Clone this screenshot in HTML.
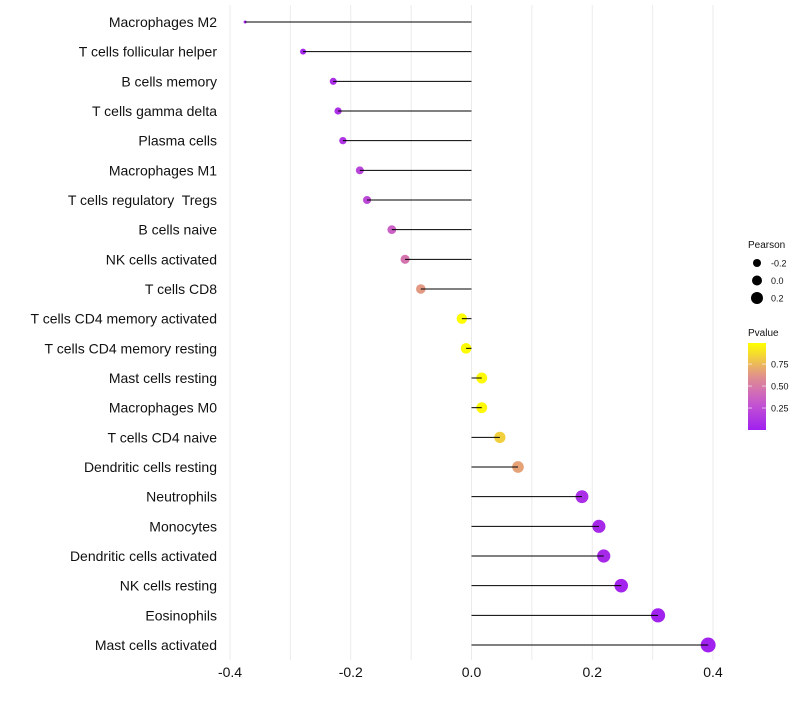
<!DOCTYPE html>
<html><head><meta charset="utf-8"><style>
body{margin:0;background:#fff;font-family:"Liberation Sans",sans-serif}
text{white-space:pre}
</style></head><body>
<svg id="c" width="800" height="700" xmlns="http://www.w3.org/2000/svg"></svg>
<script>
const categories=["Macrophages M2","T cells follicular helper","B cells memory","T cells gamma delta","Plasma cells","Macrophages M1","T cells regulatory  Tregs","B cells naive","NK cells activated","T cells CD8","T cells CD4 memory activated","T cells CD4 memory resting","Mast cells resting","Macrophages M0","T cells CD4 naive","Dendritic cells resting","Neutrophils","Monocytes","Dendritic cells activated","NK cells resting","Eosinophils","Mast cells activated"];
const pearson=[-0.375,-0.279,-0.229,-0.221,-0.213,-0.185,-0.173,-0.132,-0.110,-0.084,-0.016,-0.009,0.017,0.017,0.047,0.077,0.183,0.211,0.219,0.248,0.309,0.392];
const pvalue=[0.02,0.04,0.08,0.09,0.11,0.20,0.22,0.35,0.45,0.62,0.96,0.95,0.94,0.94,0.80,0.65,0.08,0.05,0.05,0.03,0.01,0.005];
const xTicks=[-0.4,-0.2,0.0,0.2,0.4];
const xTickLabels=["-0.4","-0.2","0.0","0.2","0.4"];
const gridVals=[-0.4,-0.3,-0.2,-0.1,0,0.1,0.2,0.3,0.4];
const sizeLegend=[-0.2,0.0,0.2];
const colorLegendTicks=[0.25,0.50,0.75];

const svg=document.getElementById('c');
const NS="http://www.w3.org/2000/svg";
function mk(t,a,p){const e=document.createElementNS(NS,t);for(const k in a)e.setAttribute(k,a[k]);(p||svg).appendChild(e);return e;}
const x=v=>471.5+v*603.75;
const y=i=>22+i*29.667;
const r=v=>Math.sqrt(2.25+70*(v+0.375));
const stops=[[0,[160,32,240]],[0.33,[200,90,205]],[0.62,[225,145,140]],[1,[255,255,0]]];
function col(p){const t=Math.max(0,Math.min(1,p/0.96));
 for(let k=1;k<stops.length;k++){if(t<=stops[k][0]){const [t0,a]=stops[k-1],[t1,b]=stops[k];const f=(t-t0)/(t1-t0);
  return `rgb(${a.map((c,i)=>Math.round(c+(b[i]-c)*f))})`;}}
 return 'rgb(255,255,0)';}

const grid=mk('g',{});
gridVals.forEach(v=>{const l=mk('line',{x1:x(v),x2:x(v),y1:5,y2:660,stroke:'#ebebeb','stroke-width':1},grid);});

categories.forEach((c,i)=>{
 const g=mk('g',{});
 const pt=mk('circle',{cx:x(pearson[i]),cy:y(i),r:r(pearson[i]),fill:col(pvalue[i])},g);
 
 const seg=mk('line',{x1:x(0),x2:x(pearson[i]),y1:y(i),y2:y(i),stroke:'#000','stroke-width':1},g);
 
 const t=mk('text',{x:217,y:y(i)+5,'text-anchor':'end','font-size':14,fill:'#111'});t.textContent=c;
 
});
xTicks.forEach((v,i)=>{const t=mk('text',{x:x(v),y:677,'text-anchor':'middle','font-size':14,fill:'#111'});t.textContent=xTickLabels[i];
 });

const lg=mk('g',{});
let tt=mk('text',{x:748,y:248,'font-size':10,fill:'#111'},lg);tt.textContent='Pearson';

const lr=[4,5,6];
sizeLegend.forEach((v,i)=>{const cy=263+i*17.5;const c=mk('circle',{cx:757,cy:cy,r:lr[i],fill:'#000'},lg);
 
 const t=mk('text',{x:771,y:cy+3.5,'font-size':9,fill:'#111'},lg);t.textContent=v.toFixed(1);
 });

const cg=mk('g',{});
tt=mk('text',{x:748,y:336,'font-size':10,fill:'#111'},cg);tt.textContent='Pvalue';

const defs=mk('defs',{});const gr=mk('linearGradient',{id:'pg',x1:0,y1:1,x2:0,y2:0},defs);
for(let k=0;k<=10;k++){mk('stop',{offset:k/10,'stop-color':col(k/10*0.96)},gr);}
const bar=mk('rect',{x:748,y:343,width:18,height:87,fill:'url(#pg)'},cg);

colorLegendTicks.forEach(v=>{const cy=430-v*87/0.99;
 mk('line',{x1:748,x2:752,y1:cy,y2:cy,stroke:'#fff','stroke-opacity':0.6},cg);mk('line',{x1:762,x2:766,y1:cy,y2:cy,stroke:'#fff','stroke-opacity':0.6},cg);
 const t=mk('text',{x:771,y:cy+3.5,'font-size':9,fill:'#111'},cg);t.textContent=v.toFixed(2);
 });
</script>
</body></html>
